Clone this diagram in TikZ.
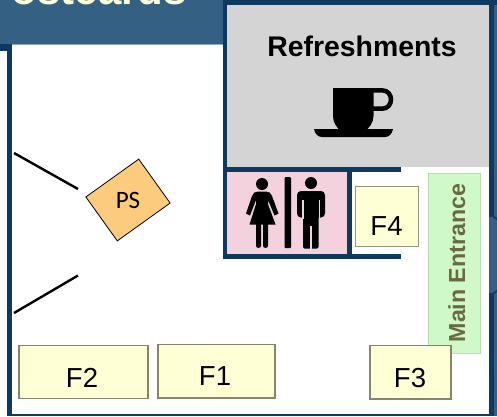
\documentclass[tikz,border=0pt]{standalone}
\usepackage{fontspec}
\setmainfont{Liberation Sans}
\newfontfamily\psfont{Carlito}
\definecolor{hdr}{HTML}{336083}
\definecolor{wall}{HTML}{0F3A5F}
\definecolor{fixt}{HTML}{FFFFD6}
\definecolor{fixb}{HTML}{85856A}
\definecolor{room}{HTML}{D4D4D4}
\definecolor{wc}{HTML}{F3D2DE}
\definecolor{ent}{HTML}{CFF9C8}
\definecolor{entb}{HTML}{B8DDB0}
\definecolor{enttx}{HTML}{6A6A3E}
\definecolor{ps}{HTML}{FCCB7E}
\tikzset{
 fixture/.style={draw=fixb,line width=1.7pt,fill=fixt,inner sep=0,anchor=north west},
 fixlabel/.style={anchor=base,inner sep=0,font=\fontsize{27.5}{27.5}\selectfont},
 barrier/.style={draw=black,line width=2.4pt}
}
\begin{document}
\begin{tikzpicture}[x=1pt,y=-1pt]
\useasboundingbox (0,0) rectangle (497,416);
\fill[white] (0,0) rectangle (497,416);
% frame
\fill[hdr] (0,0) rectangle (223,44);
\fill[hdr] (489,0) rectangle (497,416);
\fill[wall] (489,0) rectangle (494,217);
\fill[wall] (489,293) rectangle (494,416);
\fill[wall] (489,215) -- (497,220) -- (497,218) -- (489,213) -- cycle;
\fill[wall] (489,295) -- (497,290) -- (497,292) -- (489,297) -- cycle;
\fill[wall] (223,0) rectangle (497,5);
\fill[wall] (0,44) rectangle (12,51);
\fill[wall] (7,44) rectangle (12,416);
\fill[wall] (7,414) rectangle (494,416);
\draw[line width=0.7pt,hdr!55!white] (12,44) -- (223,44);
\begin{scope}
\clip (0,0) rectangle (223,44);
\node[text=fixt,font=\bfseries\fontsize{42}{42}\selectfont,anchor=base east,inner sep=0] (title) at (187,4.5) {ostcards};
\end{scope}
% rooms
\fill[room] (227,5) rectangle (489,166.5);
\node[font=\bfseries\fontsize{28.4}{28.4}\selectfont,anchor=base,inner sep=0] (ref) at (362,56) {Refreshments};
\fill[wc] (227,172) rectangle (347,254);
\fill[wall] (223,0) rectangle (227,259);
\fill[wall] (223,166.5) rectangle (401,172);
\fill[wall] (223,254) rectangle (401,259);
\fill[wall] (347,166.5) rectangle (352,259);
% cup
\fill[black] (333,88) -- (373.5,88) -- (373.5,116) .. controls (373.5,123) and (369,128) .. (365,131) -- (341,131) .. controls (337,128) and (333,123) .. (333,116) -- cycle;
\draw[black,line width=4.5pt] (372,90.3) -- (382,90.3) .. controls (394,90.3) and (394,108.7) .. (382,108.7) -- (372,108.7);
\fill[black] (314,129) -- (393,129) .. controls (392,134) and (389,137) .. (385,137) -- (322,137) .. controls (318,137) and (315,134) .. (314,129) -- cycle;
% woman
\fill[black] (262,184) circle (6);
\fill[black] (258,191.5) -- (266,191.5) .. controls (269,191.5) and (271,193) .. (272,196) -- (278.5,213.5) -- (274.5,215.5) -- (268,200) -- (268,204) -- (275.5,224.5) -- (268,224.5) -- (268,246) .. controls (268,248.5) and (263,248.5) .. (263,246) -- (263,224.5) -- (261,224.5) -- (261,246) .. controls (261,248.5) and (256,248.5) .. (256,246) -- (256,224.5) -- (249.5,224.5) -- (256,204) -- (256,200) -- (250,215.5) -- (246,213.5) -- (252,196) .. controls (253,193) and (255,191.5) .. (258,191.5) -- cycle;
% separator
\fill[black,rounded corners=1pt] (284.5,177) rectangle (291,248);
% man
\fill[black] (311,183) circle (6);
\fill[black,rounded corners=4pt] (297,191) rectangle (325,217.5);
\fill[black,rounded corners=1.5pt] (303,205) rectangle (318.5,248.5);
\fill[wc] (302,200) rectangle (303.5,219);
\fill[wc] (318.5,200) rectangle (320,219);
\fill[wc] (310.2,226) rectangle (311.6,250);
% fixtures
\node[draw=entb,line width=1pt,fill=ent,inner sep=0,minimum width=52pt,minimum height=180pt] (me) at (454,263) {};
\node[rotate=90,text=enttx,font=\bfseries\fontsize{23.2}{23.2}\selectfont,anchor=base west,inner sep=0] (metext) at (465,342.5) {Main Entrance};
\node[fixture,minimum width=63pt,minimum height=60pt,draw=fixb!85!white,line width=1.3pt] (f4) at (355,186) {};
\node[fixlabel] (f4t) at (386.5,235.5) {F4};
\node[fixture,minimum width=129pt,minimum height=53pt] (f2) at (17.8,344.5) {};
\node[fixlabel] (f2t) at (82,387.5) {F2};
\node[fixture,minimum width=117pt,minimum height=53.5pt] (f1) at (157,343.5) {};
\node[fixlabel] (f1t) at (215,385.5) {F1};
\node[fixture,minimum width=81pt,minimum height=53.5pt] (f3) at (369,344.5) {};
\node[fixlabel] (f3t) at (410,387.5) {F3};
% PS
\node[draw=black,line width=0.8pt,fill=ps,rotate=35.6,minimum width=65pt,minimum height=54pt,inner sep=0] (psb) at (128,200) {};
\node[font=\psfont\fontsize{25}{25}\selectfont,inner sep=0] (pst) at (128,200) {PS};
\coordinate (a1) at (14,153);
\coordinate (a2) at (78,189);
\coordinate (b1) at (14,313);
\coordinate (b2) at (78,275.5);
\draw[barrier] (a1) -- (a2);
\draw[barrier] (b1) -- (b2);
\end{tikzpicture}
\end{document}
